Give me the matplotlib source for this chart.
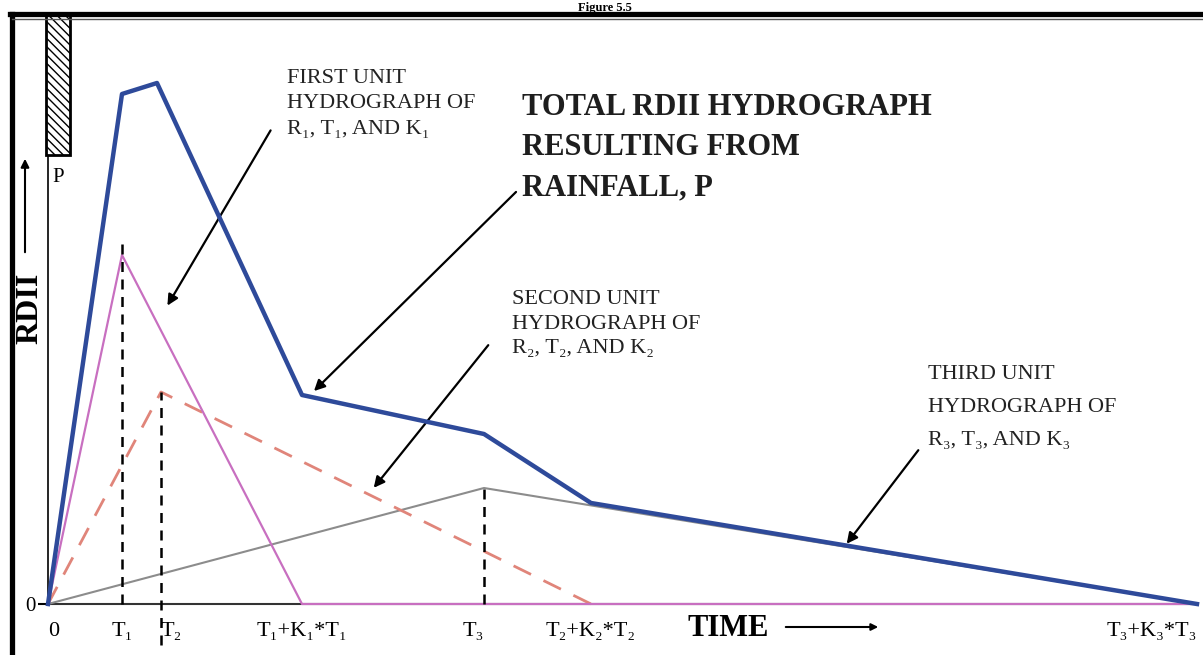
import matplotlib
matplotlib.use("Agg")
import matplotlib.pyplot as plt
from matplotlib.lines import Line2D

# event times (hours) and unit hydrograph peaks
T1, T2, T3 = 7.4, 11.3, 43.6
T1_END, T2_END, T3_END = 25.4, 54.3, 114.9

first_t = [0, T1, T1_END, T3_END]
first_q = [0, 34.9, 0, 0]
second_t = [0, T2, T2_END]
second_q = [0, 21.2, 0]
third_t = [0, T3, T3_END]
third_q = [0, 11.6, 0]
total_t = [0, 7.4, 10.9, 25.4, 43.6, 54.3, 114.9]
total_q = [0, 51.0, 52.1, 20.9, 17.0, 10.1, 0]

rain_start, rain_end = -0.2, 2.2
rain_bottom, rain_top = 44.9, 58.9

tick_pos = [0, T1, T2, T1_END, T3, T2_END, T3_END]
tick_lab = ["0", "T₁", "T₂", "T₁+K₁*T₁", "T₃", "T₂+K₂*T₂", "T₃+K₃*T₃"]

serif = ["Liberation Serif", "DejaVu Serif"]
plt.rcParams["font.family"] = serif

fig = plt.figure(figsize=(12.03, 6.55), dpi=100)
ax = fig.add_axes([0, 0, 1, 1])
ax.set_xlim(-4.8, 115.5)
ax.set_ylim(-5.1, 60.4)
for s in ["top", "right"]:
    ax.spines[s].set_visible(False)
ax.spines["left"].set_position(("data", 0))
ax.spines["bottom"].set_position(("data", 0))
ax.spines["left"].set_bounds(0, rain_bottom)
ax.spines["bottom"].set_bounds(0, T3_END)
ax.spines["left"].set_linewidth(1.2)
ax.spines["bottom"].set_linewidth(1.5)
ax.spines["bottom"].set_color("#333333")

# unit hydrographs and total
ax.plot(third_t, third_q, color="#8c8c8c", lw=1.5, zorder=3)
ax.plot(second_t, second_q, color="#e0857a", lw=2, dashes=(7, 5), zorder=3)
ax.plot(first_t, first_q, color="#c86fc0", lw=1.6, zorder=3)
ax.plot(total_t, total_q, color="#2e4a9a", lw=3.2, zorder=4)

# dashed markers of the peaks
ax.plot([T1, T1], [0, 36.4], color="black", lw=1.8, dashes=(4, 3), zorder=5)
ax.plot([T2, T2], [-4.1, 21.2], color="black", lw=1.8, dashes=(4, 3), zorder=5)
ax.plot([T3, T3], [0, 11.6], color="black", lw=1.8, dashes=(4, 3), zorder=5)

# rainfall bar
ax.bar((rain_start + rain_end) / 2, rain_top - rain_bottom, bottom=rain_bottom,
       width=rain_end - rain_start, facecolor="white", edgecolor="black",
       lw=2, hatch="\\\\\\\\", clip_on=False, zorder=5)
ax.text(1.0, 42.6, "P", fontsize=15, ha="center", va="center")

# ticks
ax.set_xticks(tick_pos)
ax.set_xticklabels(tick_lab, fontsize=16)
ax.tick_params(axis="x", length=0, pad=13)
labs = ax.get_xticklabels()
labs[0].set_ha("left")
labs[2].set_ha("left")
labs[4].set_ha("right")
labs[-1].set_ha("right")
ax.set_yticks([0])
ax.set_yticklabels(["0"], fontsize=15)
ax.tick_params(axis="y", length=7, width=1.5, pad=2)

# axis titles
ax.text(-1.8, 29.6, "RDII", rotation=90, fontsize=23, fontweight="bold",
        ha="center", va="center")
ax.annotate("", xy=(-2.3, 44.8), xytext=(-2.3, 34.9),
            arrowprops=dict(arrowstyle="-|>", lw=1.5, color="black",
                            mutation_scale=12))
ax.text(64.0, -2.5, "TIME", fontsize=22, fontweight="bold",
        ha="left", va="center")
ax.annotate("", xy=(83.3, -2.3), xytext=(73.5, -2.3),
            arrowprops=dict(arrowstyle="-|>", lw=1.5, color="black",
                            mutation_scale=10), annotation_clip=False)

# callouts
arrow = dict(arrowstyle="-|>", lw=1.6, color="black", mutation_scale=16)
ax.text(23.9, 53.5, "FIRST UNIT\nHYDROGRAPH OF\nR₁, T₁, AND K₁",
        fontsize=16, linespacing=1.45, va="top", ha="left", color="#222222")
ax.annotate("", xy=(11.8, 29.6), xytext=(22.4, 47.6), arrowprops=arrow)

ax.text(47.4, 51.1, "TOTAL RDII HYDROGRAPH\nRESULTING FROM\nRAINFALL, P",
        fontsize=22, fontweight="bold", linespacing=1.5, va="top",
        ha="left", color="#1e1e1e")
ax.annotate("", xy=(26.4, 21.1), xytext=(47.0, 41.4), arrowprops=arrow)

ax.text(46.4, 31.4, "SECOND UNIT\nHYDROGRAPH OF\nR₂, T₂, AND K₂",
        fontsize=16, linespacing=1.4, va="top", ha="left", color="#222222")
ax.annotate("", xy=(32.4, 11.4), xytext=(44.2, 26.1), arrowprops=arrow)

ax.text(88.0, 23.9, "THIRD UNIT\nHYDROGRAPH OF\nR₃, T₃, AND K₃",
        fontsize=16, linespacing=2.0, va="top", ha="left", color="#222222")
ax.annotate("", xy=(79.7, 5.8), xytext=(87.2, 15.6), arrowprops=arrow)

# page frame of the scanned figure
fig.add_artist(Line2D([0.010, 0.010], [0, 0.979], color="black", lw=3.8))
fig.add_artist(Line2D([0.008, 1.0], [0.979, 0.979], color="black", lw=3.8))
fig.add_artist(Line2D([0.010, 1.0], [0.971, 0.971], color="#555555", lw=1.0))
fig.text(0.503, 0.9875, "Figure 5.5", fontsize=9, fontweight="bold",
         ha="center", va="center")

fig.savefig("out.png", dpi=100)
